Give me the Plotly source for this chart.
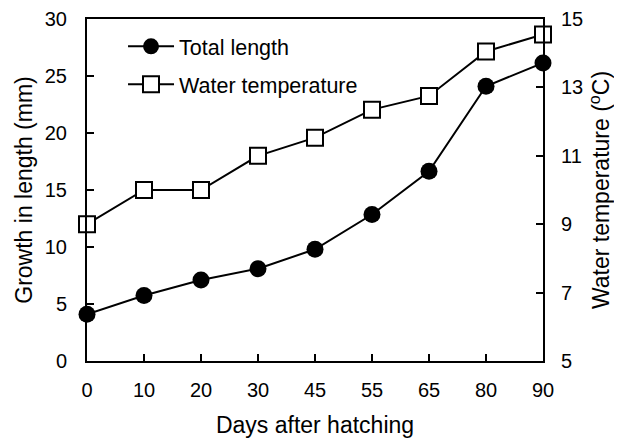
import plotly.graph_objects as go

days = ["0", "10", "20", "30", "45", "55", "65", "80", "90"]
total_length = [4.1, 5.75, 7.1, 8.1, 9.8, 12.85, 16.65, 24.1, 26.15]
water_temp = [9.0, 10.0, 10.0, 11.0, 11.53, 12.35, 12.75, 14.05, 14.55]

left_ticks = [0, 5, 10, 15, 20, 25, 30]
right_ticks = [5, 7, 9, 11, 13, 15]

FONT = "Liberation Sans, Arial, sans-serif"

fig = go.Figure()
fig.add_trace(go.Scatter(
    x=days, y=total_length, name="Total length", mode="lines+markers",
    legendgroup="a",
    line=dict(color="black", width=2),
    marker=dict(symbol="circle", size=17, color="black"),
    cliponaxis=False,
))
fig.add_trace(go.Scatter(
    x=days, y=water_temp, name="Water temperature", mode="lines+markers",
    yaxis="y2", legendgroup="b",
    line=dict(color="black", width=2),
    marker=dict(symbol="square", size=16, color="white",
                line=dict(color="black", width=2)),
    cliponaxis=False,
))

# page has an 8px body margin, so the figure is 8px smaller than the window
fig.update_layout(
    width=614, height=431,
    margin=dict(l=79, r=79, t=11, b=78),
    paper_bgcolor="white", plot_bgcolor="white",
    font=dict(family=FONT, size=20, color="black"),
    showlegend=True,
    legend=dict(x=0.079, y=0.98, xanchor="left", yanchor="top",
                bgcolor="rgba(0,0,0,0)", font=dict(size=21.5, family=FONT),
                traceorder="grouped", tracegroupgap=7, itemwidth=46),
    xaxis=dict(
        type="category", range=[0, 8], automargin=False,
        title=dict(text="Days after hatching", font=dict(size=23), standoff=17),
        showline=True, linecolor="black", linewidth=2, mirror=True,
        ticks="inside", ticklen=7, tickwidth=2, tickcolor="black",
        ticklabelstandoff=10, ticklabeloverflow="allow",
        showgrid=False, zeroline=False,
    ),
    yaxis=dict(
        range=[0, 30], tickvals=left_ticks, automargin=False,
        title=dict(text="Growth in length (mm)", font=dict(size=23), standoff=6),
        showline=True, linecolor="black", linewidth=2,
        ticks="inside", ticklen=7, tickwidth=2, tickcolor="black",
        ticklabelstandoff=14, ticklabeloverflow="allow",
        showgrid=False, zeroline=False,
    ),
    yaxis2=dict(
        range=[5, 15], tickvals=right_ticks, overlaying="y", side="right",
        automargin=False,
        title=dict(text="Water temperature (<sup>o</sup>C)", font=dict(size=23), standoff=11),
        showline=True, linecolor="black", linewidth=2,
        ticks="inside", ticklen=7, tickwidth=2, tickcolor="black",
        ticklabelstandoff=12, ticklabeloverflow="allow",
        showgrid=False, zeroline=False,
    ),
)

fig.write_html("out.html")
